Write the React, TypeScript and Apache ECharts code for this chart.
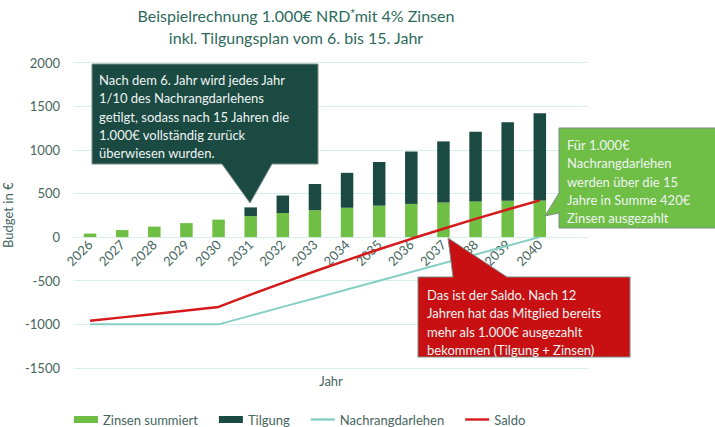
import React, { useEffect, useRef } from "react";
import * as echarts from "echarts";

const years = ["2026","2027","2028","2029","2030","2031","2032","2033","2034","2035","2036","2037","2038","2039","2040",""];
const zinsen = [40, 80, 120, 160, 200, 240, 276, 308, 336, 360, 380, 396, 408, 416, 420, null];
const tilgung = [null, null, null, null, null, 100, 200, 300, 400, 500, 600, 700, 800, 900, 1000, null];
const nachrang = [-1000, -1000, -1000, -1000, -1000, -900, -800, -700, -600, -500, -400, -300, -200, -100, 0, null];
const saldo = [-960, -920, -880, -840, -800, -660, -524, -392, -264, -140, -20, 96, 208, 316, 420, null];

const FONT = "Lato, 'Open Sans', sans-serif";
const AXIS_COLOR = "#466660";
const GRID_COLOR = "#d6eeee";
const LINE_ICON = "path://M0,0H24V2.4H0Z";
const Y_MIN = -1500;
const Y_MAX = 2000;
const GRID_TOP = 62.5;
const GRID_BOTTOM = 59;
const CHART_H = 427;

export default function App() {
  const ref = useRef<HTMLDivElement>(null);
  useEffect(() => {
    if (!ref.current) return;
    const chart = echarts.init(ref.current, undefined, { renderer: "svg" });
    const textStyle = { fill: "#eef4f2", font: `13px ${FONT}`, lineHeight: 18.3 };
    const stroke = { stroke: "#7d8c88", lineWidth: 1 };
    const gridH = CHART_H - GRID_TOP - GRID_BOTTOM;
    const zeroOffset = -(gridH * (0 - Y_MIN)) / (Y_MAX - Y_MIN);
    chart.setOption({
      animation: false,
      textStyle: { fontFamily: FONT },
      grid: { left: 74, right: 127, top: GRID_TOP, bottom: GRID_BOTTOM, containLabel: false, outerBoundsMode: "none" },
      legend: {
        left: 69,
        top: 408,
        itemWidth: 24,
        itemHeight: 7,
        itemGap: 21,
        symbolKeepAspect: true,
        textStyle: { color: AXIS_COLOR, fontSize: 13, fontFamily: FONT },
        data: [
          { name: "Zinsen summiert", icon: "rect" },
          { name: "Tilgung", icon: "rect" },
          { name: "Nachrangdarlehen", icon: LINE_ICON },
          { name: "Saldo", icon: LINE_ICON },
        ],
      },
      xAxis: {
        type: "category",
        data: years,
        offset: zeroOffset,
        axisLine: { onZero: false, lineStyle: { color: GRID_COLOR, width: 1 } },
        axisTick: { show: false },
        axisLabel: { rotate: 45, color: AXIS_COLOR, fontSize: 13, margin: 5, interval: 0 },
        name: "Jahr",
        nameLocation: "middle",
        nameGap: 137,
        nameTextStyle: { color: AXIS_COLOR, fontSize: 13 },
      },
      yAxis: {
        type: "value",
        min: Y_MIN,
        max: Y_MAX,
        interval: 500,
        axisLine: { show: false },
        axisTick: { show: false },
        splitLine: { lineStyle: { color: GRID_COLOR, width: 1 } },
        axisLabel: { color: AXIS_COLOR, fontSize: 13, margin: 14, formatter: (v: number) => String(v) },
        name: "Budget in €",
        nameLocation: "middle",
        nameGap: 52,
        nameTextStyle: { color: AXIS_COLOR, fontSize: 13 },
      },
      series: [
        { name: "Zinsen summiert", type: "bar", stack: "a", data: zinsen, barWidth: 12.5, itemStyle: { color: "#70bf45" } },
        { name: "Tilgung", type: "bar", stack: "a", data: tilgung, barWidth: 12.5, itemStyle: { color: "#1b4a42" } },
        { name: "Nachrangdarlehen", type: "line", data: nachrang, symbol: "none", lineStyle: { color: "#86cfc4", width: 2 }, itemStyle: { color: "#86cfc4" }, z: 3 },
        { name: "Saldo", type: "line", data: saldo, symbol: "none", lineStyle: { color: "#d41a1a", width: 2.5 }, itemStyle: { color: "#d41a1a" }, z: 4 },
      ],
      graphic: [
        {
          type: "text", x: 296, y: 7, z: 10,
          style: {
            text: "Beispielrechnung 1.000€ NRD{s|*}mit 4% Zinsen",
            rich: { s: { fontSize: 11, verticalAlign: "top", fill: "#2e6a5c", padding: [0, 0, 6, 0] } },
            fill: "#2e6a5c", font: `16px ${FONT}`, textAlign: "center",
          },
        },
        {
          type: "text", x: 296, y: 29, z: 10,
          style: { text: "inkl. Tilgungsplan vom 6. bis 15. Jahr", fill: "#2e6a5c", font: `16px ${FONT}`, textAlign: "center" },
        },
        {
          type: "polygon", z: 20,
          shape: { points: [[92, 64], [318, 64], [318, 164], [272, 164], [250, 203], [222, 164], [92, 164]] },
          style: { fill: "#1b4a42", ...stroke },
        },
        {
          type: "text", x: 99, y: 71, z: 21,
          style: { ...textStyle, text: "Nach dem 6. Jahr wird jedes Jahr\n1/10 des Nachrangdarlehens\ngetilgt, sodass nach 15 Jahren die\n1.000€ vollständig zurück\nüberwiesen wurden." },
        },
        {
          type: "polygon", z: 20,
          shape: { points: [[559, 128], [716, 128], [716, 228], [559, 228], [559, 213], [545, 216], [559, 193]] },
          style: { fill: "#6fbe45", ...stroke },
        },
        {
          type: "text", x: 567, y: 136, z: 21,
          style: { ...textStyle, text: "Für 1.000€\nNachrangdarlehen\nwerden über die 15\nJahre in Summe 420€\nZinsen ausgezahlt" },
        },
        {
          type: "polygon", z: 20,
          shape: { points: [[418, 277], [453, 277], [448, 238], [507, 277], [630, 277], [630, 357], [418, 357]] },
          style: { fill: "#c80f12", ...stroke },
        },
        {
          type: "text", x: 427, y: 286, z: 21,
          style: { ...textStyle, text: "Das ist der Saldo. Nach 12\nJahren hat das Mitglied bereits\nmehr als 1.000€ ausgezahlt\nbekommen (Tilgung + Zinsen)" },
        },
      ],
    });
    return () => chart.dispose();
  }, []);
  return <div ref={ref} style={{ width: 715, height: 427, position: "absolute", left: 0, top: 0 }} />;
}
